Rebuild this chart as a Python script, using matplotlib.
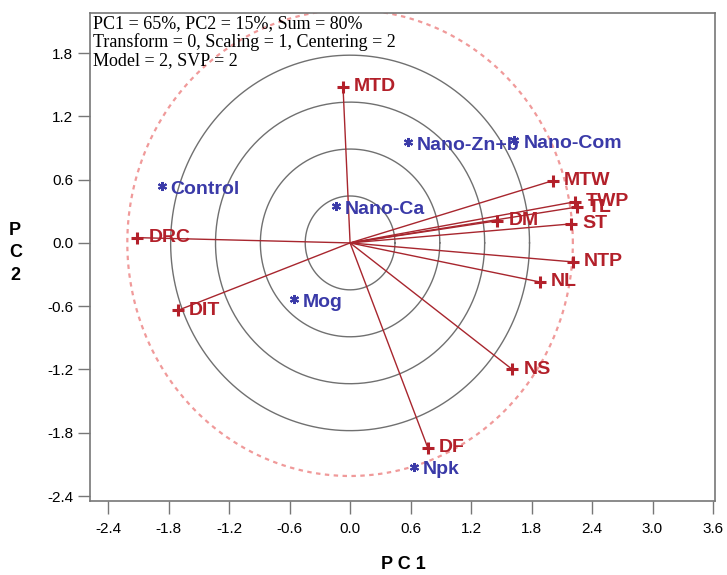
import numpy as np
import matplotlib.pyplot as plt

# variable loadings (red vectors)
var_names = ["MTD", "MTW", "TWP", "TL", "DM", "ST", "NTP", "NL", "NS", "DF", "DIT", "DRC"]
var_pc1 = [-0.07, 2.01, 2.23, 2.25, 1.46, 2.19, 2.21, 1.88, 1.61, 0.77, -1.71, -2.11]
var_pc2 = [1.48, 0.59, 0.39, 0.34, 0.21, 0.18, -0.18, -0.37, -1.20, -1.94, -0.64, 0.05]

# treatment scores (blue)
trt_names = ["Control", "Nano-Ca", "Mog", "Npk", "Nano-Zn+b", "Nano-Com"]
trt_pc1 = [-1.87, -0.14, -0.56, 0.63, 0.57, 1.63]
trt_pc2 = [0.54, 0.35, -0.53, -2.12, 0.96, 0.98]

ticks = [-2.4, -1.8, -1.2, -0.6, 0.0, 0.6, 1.2, 1.8, 2.4, 3.0, 3.6]
yticks = [-2.4, -1.8, -1.2, -0.6, 0.0, 0.6, 1.2, 1.8]
ring_r = [0.445, 0.89, 1.335, 1.78]
outer_r = 2.21

info = "PC1 = 65%, PC2 = 15%, Sum = 80%\nTransform = 0, Scaling = 1, Centering = 2\nModel = 2, SVP = 2"

red = "#b3202a"
line_red = "#a8262e"
blue = "#3a3aa8"

plt.rcParams['font.family'] = ['Liberation Sans', 'DejaVu Sans']
fig = plt.figure(figsize=(7.27, 5.75), dpi=100)
ax = fig.add_axes([0.1238, 0.1287, 0.8597, 0.8487])

th = np.linspace(0, 2 * np.pi, 400)
for r in ring_r:
    ax.plot(r * np.cos(th), r * np.sin(th), color="#707070", lw=1.0, zorder=1)
ax.plot(outer_r * np.cos(th), outer_r * np.sin(th), color="#f09a9a", lw=1.6,
        ls=(0, (2, 2)), zorder=1)

for name, x, y in zip(var_names, var_pc1, var_pc2):
    ax.plot([0, x], [0, y], color=line_red, lw=1.0, zorder=2)
    ax.plot(x, y, marker="+", ms=8, mew=2.2, color=red, zorder=3)
    ax.annotate(name, (x, y), xytext=(8, 0), textcoords="offset points",
                ha="left", va="center", fontsize=14, fontweight="bold",
                color=red, zorder=4)

for name, x, y in zip(trt_names, trt_pc1, trt_pc2):
    ax.plot(x, y, marker=(6, 2, 0), ms=6.5, mew=1.5, color=blue, zorder=3)
    ax.annotate(name, (x, y), xytext=(6.5, -2.5), textcoords="offset points",
                ha="left", va="center", fontsize=14, fontweight="bold",
                color=blue, zorder=4)

ax.text(0.004, 0.995, info, transform=ax.transAxes, ha="left", va="top",
        family=["Liberation Serif", "DejaVu Serif"], fontsize=13,
        linespacing=1.08)

ax.set_xlim(-2.58, 3.62)
ax.set_ylim(-2.447, 2.18)
ax.set_xticks(ticks)
ax.set_xticklabels([f"{t:.1f}" for t in ticks])
ax.set_yticks(yticks)
ax.set_yticklabels([f"{t:.1f}" for t in yticks])
ax.tick_params(axis="x", length=9.4, pad=6, width=1, color="#777777", labelsize=11)
ax.tick_params(axis="y", length=8.6, pad=3.5, width=1, color="#777777", labelsize=11)
for s in ax.spines.values():
    s.set_color("#777777")
    s.set_linewidth(1.2)

fig.text(0.555, 0.003, "P C 1", ha="center", va="bottom", fontsize=13, fontweight="bold")
fig.text(0.021, 0.56, "P\nC\n2", ha="center", va="center", fontsize=13,
         fontweight="bold", linespacing=1.4)

fig.savefig("out.png", dpi=100)
